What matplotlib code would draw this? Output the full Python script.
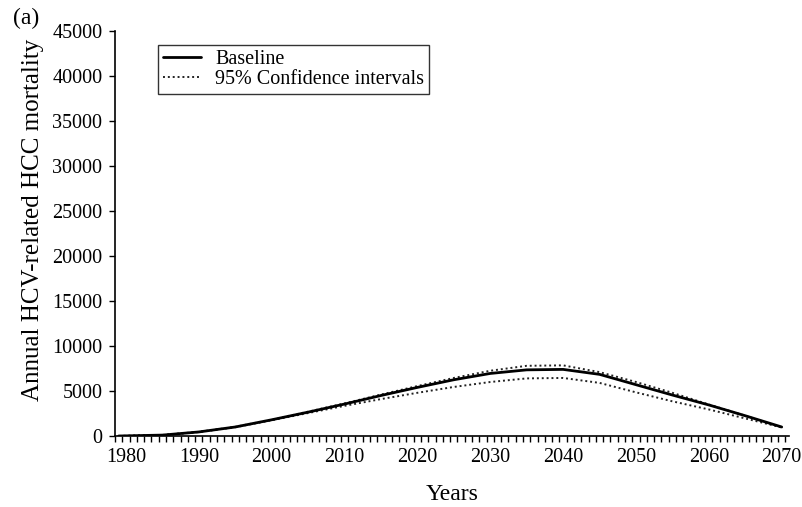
import matplotlib
matplotlib.use("Agg")
import matplotlib.pyplot as plt
from matplotlib.ticker import FixedLocator

years = [1979, 1985, 1990, 1995, 2000, 2005, 2010, 2015, 2020, 2025, 2030,
         2035, 2040, 2045, 2050, 2055, 2060, 2065, 2070]
baseline = [0, 100, 450, 1000, 1800, 2650, 3550, 4500, 5400, 6250, 6950,
            7350, 7400, 6850, 5700, 4550, 3450, 2250, 1000]
upper_ci = [0, 110, 460, 1010, 1820, 2700, 3620, 4600, 5550, 6450, 7250,
            7800, 7850, 7100, 6000, 4800, 3500, 2250, 950]
lower_ci = [0, 100, 440, 980, 1750, 2550, 3350, 4100, 4800, 5450, 6000,
            6400, 6450, 5900, 4850, 3850, 2950, 1950, 950]
xtick_labels = [1980, 1990, 2000, 2010, 2020, 2030, 2040, 2050, 2060, 2070]
ytick_values = list(range(0, 45001, 5000))

plt.rcParams['font.family'] = ['Liberation Serif', 'DejaVu Serif']

fig = plt.figure(figsize=(8.03, 5.07), dpi=100)
ax = fig.add_axes([115/803, 1-436/507, (789-115)/803, (436-31)/507])

ax.plot(years, baseline, color='black', lw=2.0, solid_capstyle='round',
        label='Baseline', zorder=3)
ax.plot(years, upper_ci, color='#222222', lw=1.4, ls=(0, (1, 1.5)),
        label='95% Confidence intervals', zorder=2)
ax.plot(years, lower_ci, color='#222222', lw=1.4, ls=(0, (1, 1.5)), zorder=2)

ax.set_xlim(1978.5, 2071)
ax.set_ylim(0, 45000)
ax.spines['top'].set_visible(False)
ax.spines['right'].set_visible(False)
for s in ['left', 'bottom']:
    ax.spines[s].set_linewidth(1.2)

ax.xaxis.set_major_locator(FixedLocator(xtick_labels))
ax.set_xticklabels([str(v) for v in xtick_labels])
ax.xaxis.set_minor_locator(FixedLocator([y + 0.5 for y in range(1978, 2071)]))
ax.tick_params(axis='x', which='major', length=0, pad=9, labelsize=14.5)
ax.tick_params(axis='x', which='minor', length=4, width=1.0, direction='out')
ax.set_yticks(ytick_values)
ax.set_yticklabels([str(v) for v in ytick_values])
ax.tick_params(axis='y', which='major', length=4, width=1.0, pad=5, labelsize=14.5)

ax.set_xlabel('Years', fontsize=17, labelpad=12)
ax.set_ylabel('Annual HCV-related HCC mortality', fontsize=18)
ax.yaxis.set_label_coords(-0.105, (436-220)/405)

fig.text(13/803, 1-18/507, '(a)', fontsize=17, va='center', ha='left')

leg = ax.legend(loc='upper left', bbox_to_anchor=((158-115)/674, (436-45)/405),
                frameon=True, fancybox=False, edgecolor='black', fontsize=14.5,
                handlelength=1.9, handletextpad=0.7, borderpad=0.25,
                borderaxespad=0, labelspacing=0.05)
leg.get_frame().set_linewidth(1.0)

fig.savefig('out.png', dpi=100)
